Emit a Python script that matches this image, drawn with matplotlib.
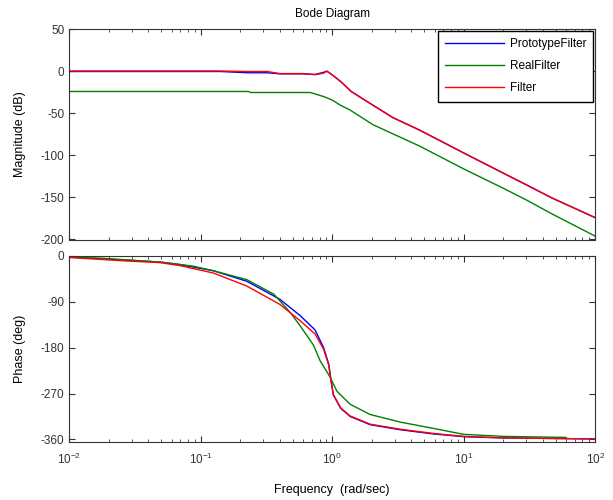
import matplotlib
matplotlib.use("Agg")
import matplotlib.pyplot as plt
from matplotlib.ticker import LogLocator, NullFormatter, FixedLocator

plt.rcParams['font.family'] = ['Liberation Sans', 'DejaVu Sans']
plt.rcParams['font.size'] = 8.5
plt.rcParams['axes.unicode_minus'] = False

# magnitude (dB)
freq_mag = [0.01, 0.14, 0.23, 0.32, 0.40, 0.60, 0.74, 0.86, 0.91, 1.0, 1.16, 1.4,
            1.94, 2.9, 4.65, 10, 20, 30, 47.5, 100]
proto_mag = [0, 0, -1.5, -1.5, -2.8, -2.8, -3.5, -1, 0.5, -4, -12, -24,
             -38, -55, -70, -97, -121, -135, -151, -174]
filter_mag = [0.6, 0.6, 0, 0, -2.5, -2.5, -3.8, -2, 0.3, -4, -12, -24,
              -38, -55, -70, -97, -121, -135, -151, -174]
freq_real_mag = [0.01, 0.23, 0.24, 0.68, 0.86, 1.0, 1.15, 1.37, 2.05, 4.65, 10,
                 20, 30, 47.5, 100]
real_mag = [-23.8, -23.8, -25, -25, -29.8, -34, -40, -46, -63.5, -89, -116,
            -139, -153, -170, -196]

# phase (deg)
freq_ph = [0.01, 0.027, 0.049, 0.07, 0.125, 0.224, 0.40, 0.57, 0.74, 0.86, 0.94,
           0.98, 1.02, 1.16, 1.37, 1.94, 3.3, 5.8, 10, 20, 100]
proto_ph = [-2, -8, -12, -17, -29, -49.6, -85, -117, -145, -180, -212,
            -245, -273, -299, -315, -331, -341, -349, -354.6, -357, -359]
filter_ph = [-3, -9.7, -13, -19, -33.5, -59, -95, -127, -153, -183, -214,
             -246, -272, -298, -314, -330, -340, -348, -354, -357, -359]
freq_real_ph = [0.01, 0.018, 0.05, 0.088, 0.125, 0.224, 0.36, 0.48, 0.57, 0.72,
                0.81, 0.94, 1.09, 1.37, 1.94, 3.3, 5.8, 10, 20, 60]
real_ph = [-2, -4.5, -12, -20, -29, -46.4, -75, -111, -137, -175,
           -206, -233, -266, -291, -311, -326, -338, -350, -354, -356]

mag_ticks = [50, 0, -50, -100, -150, -200]
phase_ticks = [0, -90, -180, -270, -360]

c_blue = (0, 0, 1)
c_green = (0, 0.5, 0)
c_red = (1, 0, 0)
grey = '#333333'

fig = plt.figure(figsize=(6.13, 5.0), dpi=100)
ax1 = fig.add_axes([0.113, 0.521, 0.858, 0.42])
ax2 = fig.add_axes([0.113, 0.116, 0.858, 0.372])

ax1.plot(freq_mag, proto_mag, color=c_blue, lw=1, label='PrototypeFilter')
ax1.plot(freq_real_mag, real_mag, color=c_green, lw=1, label='RealFilter')
ax1.plot(freq_mag, filter_mag, color=c_red, lw=1, label='Filter')

ax2.plot(freq_ph, proto_ph, color=c_blue, lw=1)
ax2.plot(freq_real_ph, real_ph, color=c_green, lw=1)
ax2.plot(freq_ph, filter_ph, color=c_red, lw=1)

for ax in (ax1, ax2):
    ax.set_xscale('log')
    ax.set_xlim(0.01, 100)
    ax.xaxis.set_major_locator(LogLocator(base=10, numticks=10))
    ax.xaxis.set_minor_locator(LogLocator(base=10, subs=range(2, 10), numticks=10))
    ax.xaxis.set_minor_formatter(NullFormatter())
    ax.tick_params(which='both', direction='in', top=True, right=True,
                   colors=grey, labelcolor=grey, labelsize=8.5)
    ax.tick_params(which='major', length=4)
    ax.tick_params(which='minor', length=2.5)
    for s in ax.spines.values():
        s.set_color(grey)
        s.set_linewidth(0.8)

ax1.set_ylim(-200, 50)
ax1.yaxis.set_major_locator(FixedLocator(mag_ticks))
ax1.set_xticklabels([])
ax1.set_ylabel('Magnitude (dB)', color='black', fontsize=9)
ax1.set_title('Bode Diagram', fontsize=8.5, pad=9)

ax2.set_ylim(-365, 0)
ax2.yaxis.set_major_locator(FixedLocator(phase_ticks))
ax2.tick_params(axis='x', which='major', pad=7)
ax2.set_ylabel('Phase (deg)', color='black', fontsize=9)
ax2.set_xlabel('Frequency  (rad/sec)', color='black', labelpad=12, fontsize=9)

leg = ax1.legend(loc='upper right', borderaxespad=0.15, fancybox=False,
                 edgecolor='black', framealpha=1, handlelength=5.0,
                 labelspacing=0.85, borderpad=0.6, handletextpad=0.5)
leg.get_frame().set_linewidth(1.0)

ax1.yaxis.set_label_coords(-0.082, 0.5)
ax2.yaxis.set_label_coords(-0.082, 0.5)

fig.savefig('out.png', dpi=100)
